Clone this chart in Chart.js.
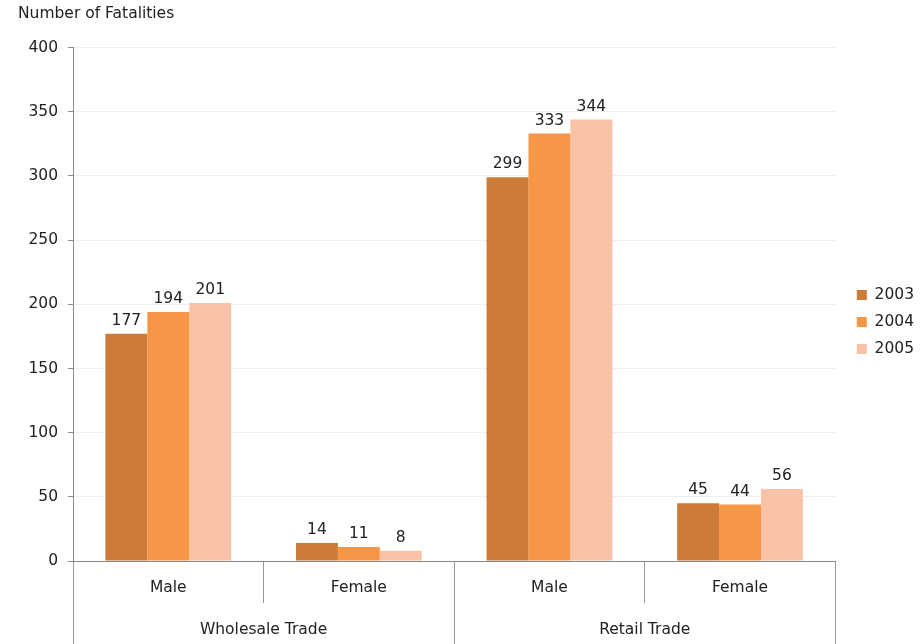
<!DOCTYPE html>
<html>
<head>
<meta charset="utf-8">
<script src="https://cdn.jsdelivr.net/npm/chart.js@4"></script>
<style>
  body { margin: 0; background: #fff; }
  #wrap { width: 924px; height: 644px; }
</style>
</head>
<body>
<div id="wrap"><canvas id="chart" width="924" height="644"></canvas></div>
<script>
const groups = ["Wholesale Trade", "Retail Trade"];
const sexes = ["Male", "Female", "Male", "Female"];
const years = ["2003", "2004", "2005"];
const values2003 = [177, 14, 299, 45];
const values2004 = [194, 11, 333, 44];
const values2005 = [201, 8, 344, 56];
const yTicks = [0, 50, 100, 150, 200, 250, 300, 350, 400];
const colors = ["#cd7b38", "#f79646", "#fac3a8"];

const FONT = { family: "'DejaVu Sans', Verdana, sans-serif", size: 15.5 };

// prints the value above each bar
const valueLabels = {
  id: "valueLabels",
  afterDatasetsDraw(chart) {
    const ctx = chart.ctx;
    ctx.save();
    ctx.font = `${FONT.size}px ${FONT.family}`;
    ctx.fillStyle = "#222";
    ctx.textAlign = "center";
    ctx.textBaseline = "middle";
    chart.data.datasets.forEach((ds, i) => {
      chart.getDatasetMeta(i).data.forEach((bar, j) => {
        ctx.fillText(String(ds.data[j]), bar.x, bar.y - 13);
      });
    });
    ctx.restore();
  },
};

const series = [values2003, values2004, values2005];

new Chart(document.getElementById("chart"), {
  type: "bar",
  data: {
    labels: sexes,
    datasets: series.map((d, i) => ({
      label: years[i],
      data: d,
      backgroundColor: colors[i],
      borderWidth: 0,
      xAxisID: "x",
      yAxisID: "y",
    })),
  },
  options: {
    responsive: false,
    animation: false,
    layout: { padding: { left: 18, right: 0, top: 0, bottom: 0 } },
    datasets: { bar: { categoryPercentage: 0.66, barPercentage: 1 } },
    scales: {
      x: {
        type: "category",
        position: "bottom",
        offset: true,
        weight: 0,
        grid: { offset: true, drawOnChartArea: false, drawTicks: true, tickLength: 42, tickColor: "#999", color: "#999" },
        border: { display: true, color: "#888" },
        ticks: { color: "#222", font: FONT, padding: -24, autoSkip: false, maxRotation: 0 },
        afterFit: (s) => { s.height = 42; },
      },
      x2: {
        type: "category",
        position: "bottom",
        labels: groups,
        offset: true,
        weight: 1,
        grid: { offset: true, drawOnChartArea: false, drawTicks: true, tickLength: 41, tickColor: "#999", color: "#999" },
        border: { display: false },
        ticks: { color: "#222", font: FONT, padding: -23, autoSkip: false, maxRotation: 0 },
        afterFit: (s) => { s.height = 41; },
      },
      y: {
        min: 0,
        max: 400,
        afterBuildTicks: (s) => { s.ticks = yTicks.map((v) => ({ value: v })); },
        grid: { color: "#efefef", tickLength: 5, tickColor: "#888" },
        border: { display: true, color: "#888" },
        ticks: { color: "#222", font: FONT, padding: 10 },
        afterFit: (s) => { s.width = 55; },
      },
      spacer: {
        type: "linear",
        position: "right",
        display: true,
        grid: { display: false },
        border: { display: false },
        ticks: { display: false },
        afterFit: (s) => { s.width = 10; },
      },
    },
    plugins: {
      title: {
        display: true,
        text: "Number of Fatalities",
        align: "start",
        color: "#222",
        font: { ...FONT, weight: "normal" },
        padding: { top: 5, bottom: 24 },
      },
      legend: {
        position: "right",
        labels: { color: "#222", font: FONT, boxWidth: 10, boxHeight: 10, padding: 11.5 },
      },
      tooltip: { enabled: false },
    },
  },
  plugins: [valueLabels],
});
</script>
</body>
</html>
